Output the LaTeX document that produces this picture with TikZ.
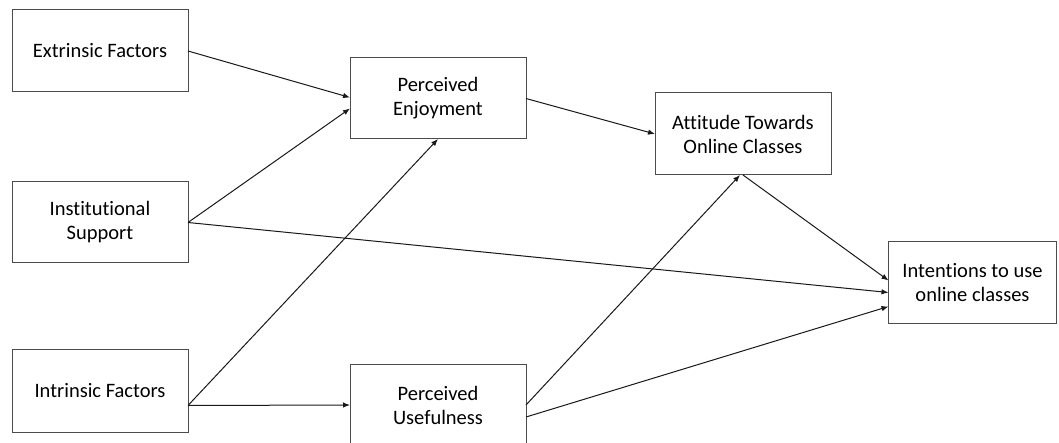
\documentclass[tikz,border=0pt]{standalone}
\usepackage{fontspec}
\setmainfont{Carlito}[Ligatures=NoCommon]
\usetikzlibrary{arrows.meta}
\begin{document}
\begin{tikzpicture}[x=1pt,y=-1pt,
  box/.style={draw=black!70, line width=1pt, minimum width=176pt, minimum height=82pt,
    inner sep=0pt, outer sep=0pt, align=center, text=black,
    font=\fontsize{20.5}{24}\selectfont},
  conn/.style={line width=1pt, draw=black!90, -{Latex[length=7pt,width=5.5pt]}}]
\useasboundingbox (0,0) rectangle (1059,443);
\clip (0,0) rectangle (1059,443);
\fill[white] (0,0) rectangle (1059,443);
\node[box] (ext) at (100,51) {Extrinsic Factors};
\node[box, minimum height=81pt] (inst) at (100,222.5) {Institutional\\Support};
\node[box, minimum height=83pt] (intr) at (100,390.5) {Intrinsic Factors};
\node[box, minimum height=81pt] (enj) at (438,98.5) {Perceived\\Enjoyment};
\node[box] (use) at (438,405) {Perceived\\Usefulness};
\node[box] (att) at (743,134) {Attitude Towards\\Online Classes};
\node[box, minimum width=168pt, minimum height=81pt] (int) at (972.5,282.5) {Intentions to use\\online classes};
\draw[conn] (ext.east) -- ([yshift=1pt]enj.west);
\draw[conn] (inst.east) -- ([yshift=-10pt]enj.west);
\draw[conn] (inst.east) -- ([yshift=-10pt]int.west);
\draw[conn] ([yshift=-15pt]intr.east) -- (enj.south);
\draw[conn] ([yshift=-15pt]intr.east) -- (use.west);
\draw[conn] (enj.east) -- (att.west);
\draw[conn] (use.east) -- ([xshift=-3pt]att.south);
\draw[conn] ([yshift=-12pt]use.east) -- ([yshift=-24pt]int.west);
\draw[conn] (att.south) -- ([yshift=2pt]int.west);
\end{tikzpicture}
\end{document}
